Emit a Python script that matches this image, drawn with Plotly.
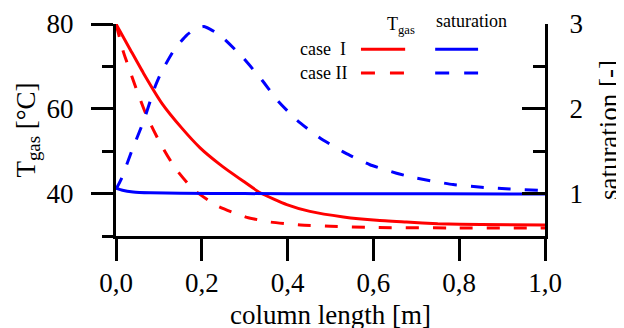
import plotly.graph_objects as go

# ---- data ----
x_T_case1 = [0, 0.033, 0.064, 0.107, 0.153, 0.196, 0.242, 0.297, 0.336, 0.398, 0.452, 0.53, 0.608, 0.677, 0.75, 0.85, 1.0]
T_case1 = [80, 74.0, 68.4, 61.3, 55.5, 50.8, 46.9, 42.9, 40.2, 37.4, 35.8, 34.5, 33.7, 33.3, 32.9, 32.7, 32.6]

x_T_case2 = [0, 0.017, 0.025, 0.048, 0.072, 0.103, 0.138, 0.18, 0.238, 0.305, 0.359, 0.43, 0.5, 0.6, 0.8, 1.0]
T_case2 = [80, 73.5, 71.1, 64.5, 58.2, 51.9, 46.0, 41.0, 37.0, 34.4, 33.3, 32.6, 32.3, 32.0, 31.9, 31.9]

x_S_case1 = [0, 0.015, 0.04, 0.08, 0.15, 0.3, 0.5, 0.75, 1.0]
S_case1 = [1.065, 1.04, 1.02, 1.01, 1.004, 1.0, 0.998, 0.997, 0.996]

x_S_case2 = [0, 0.013, 0.0365, 0.064, 0.091, 0.1065, 0.1375, 0.165, 0.188, 0.205, 0.219, 0.242,
             0.293, 0.34, 0.378, 0.421, 0.4755, 0.534, 0.592, 0.654, 0.693, 0.786, 0.852, 0.918, 0.984, 1.0]
S_case2 = [1.05, 1.18, 1.50, 1.85, 2.26, 2.44, 2.71, 2.87, 2.95, 2.97, 2.94, 2.87,
           2.62, 2.34, 2.09, 1.87, 1.655, 1.48, 1.34, 1.24, 1.19, 1.106, 1.075, 1.055, 1.04, 1.037]

x_ticks = [0, 0.2, 0.4, 0.6, 0.8, 1.0]
T_major = [40, 60, 80]
T_minor = [30, 50, 70]
S_major = [1, 2, 3]
S_minor = [0.5, 1.5, 2.5]

x_title = "column length [m]"
legend_rows = ["case  I", "case II"]
legend_cols = ["T<sub>gas</sub>", "saturation"]

# ---- styles ----
RED = "#ff0000"
BLUE = "#0000ff"
DASH = "13px,14px"
FONT = "Liberation Serif, Times New Roman, serif"
LW = 3

fig = go.Figure()
fig.add_trace(go.Scatter(x=x_T_case1, y=T_case1, mode="lines", line=dict(color=RED, width=LW, shape="spline", smoothing=0.5), yaxis="y"))
fig.add_trace(go.Scatter(x=x_T_case2, y=T_case2, mode="lines", line=dict(color=RED, width=LW, dash=DASH, shape="spline", smoothing=0.5), yaxis="y"))
fig.add_trace(go.Scatter(x=x_S_case1, y=S_case1, mode="lines", line=dict(color=BLUE, width=LW, shape="spline", smoothing=0.5), yaxis="y2"))
fig.add_trace(go.Scatter(x=x_S_case2, y=S_case2, mode="lines", line=dict(color=BLUE, width=LW, dash=DASH, shape="spline", smoothing=0.5), yaxis="y2"))

axis_common = dict(showline=True, linewidth=3, linecolor="black", showgrid=False, zeroline=False,
                   tickwidth=2.5, tickcolor="black", tickfont=dict(size=27, family=FONT, color="black"))

# the page body adds an 8px offset, so the figure is 8px smaller than the window
fig.update_layout(
    width=616, height=320,
    margin=dict(l=108, r=79, t=16, b=92, autoexpand=False),
    paper_bgcolor="white", plot_bgcolor="white",
    showlegend=False,
    separators=",.",
    font=dict(family=FONT, size=27, color="black"),
    xaxis=dict(range=[0, 1], tickvals=x_ticks, tickformat=".1f", ticks="outside", ticklen=22,
               ticklabelstandoff=-1,
               **axis_common),
    yaxis=dict(range=[30, 80], tickvals=T_major, ticks="outside", ticklen=22,
               minor=dict(tickvals=T_minor, ticks="outside", ticklen=11, tickwidth=2.5, tickcolor="black"),
               ticklabelstandoff=12,
               title=dict(text="T<sub>gas</sub> [°C]", standoff=4, font=dict(size=27)),
               **axis_common),
    yaxis2=dict(range=[0.5, 3], overlaying="y", side="right", tickvals=S_major, ticks="inside", ticklen=23,
                minor=dict(tickvals=S_minor, ticks="inside", ticklen=12, tickwidth=2.5, tickcolor="black"),
                ticklabelstandoff=16,
                title=dict(text="saturation [-]", standoff=18, font=dict(size=27)),
                **axis_common),
)

# x-axis title (as annotation so it can sit at the bottom edge like the reference)
fig.add_annotation(x=0.5, y=-0.371, xref="paper", yref="paper", text=x_title, showarrow=False,
                   xanchor="center", yanchor="middle", font=dict(size=27, family=FONT, color="black"))

# ---- custom legend (paper coordinates) ----
row_y = [0.881, 0.769]
col_x = [(0.571, 0.674), (0.744, 0.844)]
colors = [RED, BLUE]
for r, (label, y) in enumerate(zip(legend_rows, row_y)):
    fig.add_annotation(x=0.424, y=y, xref="paper", yref="paper", text=label, showarrow=False,
                       xanchor="left", yanchor="middle", font=dict(size=18, family=FONT, color="black"))
    for c, (x0, x1) in enumerate(col_x):
        fig.add_shape(type="line", xref="paper", yref="paper", x0=x0, x1=x1, y0=y, y1=y,
                      line=dict(color=colors[c], width=LW, dash=None if r == 0 else "14px,15px"))
fig.add_annotation(x=0.627, y=0.995, xref="paper", yref="paper", text=legend_cols[0], showarrow=False,
                   xanchor="left", yanchor="middle", font=dict(size=18, family=FONT, color="black"))
fig.add_annotation(x=0.741, y=1.014, xref="paper", yref="paper", text=legend_cols[1], showarrow=False,
                   xanchor="left", yanchor="middle", font=dict(size=18, family=FONT, color="black"))

fig.write_html("out.html")
